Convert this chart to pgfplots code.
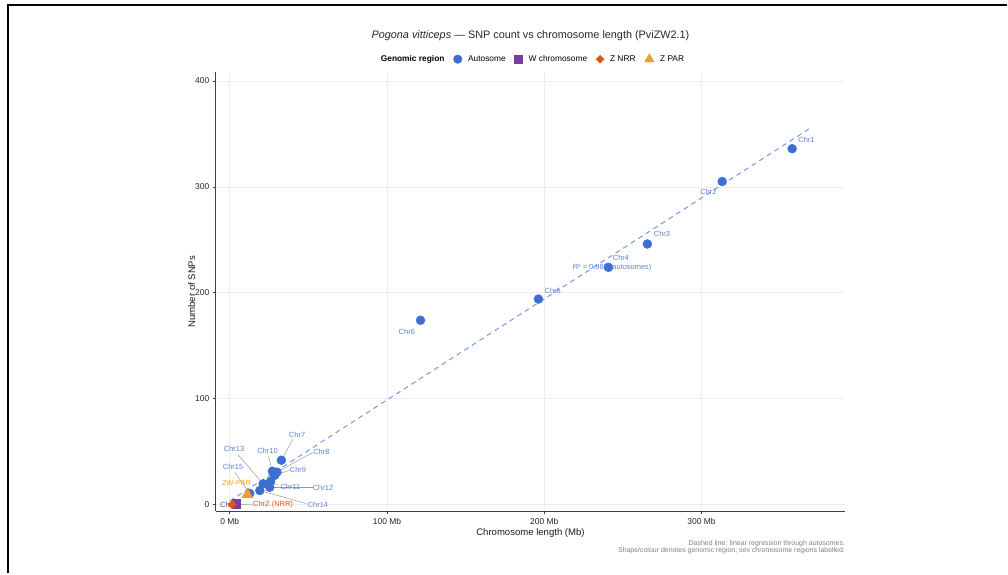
\documentclass[border=0pt]{standalone}
\usepackage{pgfplots}
\pgfplotsset{compat=1.18}
\usepackage{fontspec}
\setmainfont{Liberation Sans}
\definecolor{auto}{HTML}{3D6FD0}
\definecolor{autolab}{HTML}{5C84D6}
\definecolor{wcol}{HTML}{7D3C9C}
\definecolor{znrr}{HTML}{E0541C}
\definecolor{zpar}{HTML}{E9A12D}
\definecolor{regl}{HTML}{7FA0E6}
\definecolor{leader}{HTML}{9A9A9A}
\begin{document}
\begin{tikzpicture}
\path (0,0) rectangle (1008bp,574bp);
\draw[line width=2bp] (8bp,0) -- (8bp,569bp) -- (1008bp,569bp);
\node[font=\fontsize{10.9}{13}\selectfont, text=black!85] at (531bp,538bp) {\textit{Pogona vitticeps} — SNP count vs chromosome length (PviZW2.1)};
\node[font=\fontsize{7}{8}\selectfont, text=black!50, anchor=east, inner sep=0pt] at (846bp,30bp) {Dashed line: linear regression through autosomes.};
\node[font=\fontsize{7}{8}\selectfont, text=black!50, anchor=east, inner sep=0pt] at (846bp,23bp) {Shape/colour denotes genomic region; sex chromosome regions labelled.};
\begin{axis}[at={(216bp,62bp)}, anchor=south west, scale only axis,
  width=630bp, height=440bp,
  xmin=-8.9, xmax=391.4, ymin=-6.6, ymax=408.5,
  axis lines*=left,
  axis line style={black!75, line width=0.8bp},
  xtick={0,100,200,300}, xticklabels={0 Mb,100 Mb,200 Mb,300 Mb},
  ytick={0,100,200,300,400},
  /pgf/number format/assume math mode=true,
  tick label style={font=\fontsize{8.5}{10}\selectfont, text=black!85},
  tick align=outside, major tick length=3bp,
  tick style={black!75, line width=0.6bp},
  grid=major, major grid style={black!7, line width=0.6bp},
  xlabel={Chromosome length (Mb)}, ylabel={Number of SNPs},
  label style={font=\fontsize{9.6}{11}\selectfont, text=black!90},
  xlabel style={yshift=2bp}, ylabel style={yshift=-7bp},
  clip=false,
  legend columns=-1,
  legend style={at={(0.5,1.029)}, anchor=center, draw=none, fill=none,
    font=\fontsize{8.4}{10}\selectfont,
    /tikz/every odd column/.append style={column sep=4bp},
    /tikz/every even column/.append style={column sep=7bp}},
]
\addlegendimage{empty legend}
\addlegendentry{\textbf{Genomic region}}
\addlegendimage{only marks, mark=*, mark size=4.3bp, draw=auto, fill=auto}
\addlegendentry{Autosome}
\addlegendimage{only marks, mark=square*, mark size=4bp, draw=wcol, fill=wcol}
\addlegendentry{W chromosome}
\addlegendimage{only marks, mark=square*, mark size=2.8bp, mark options={rotate=45}, draw=znrr, fill=znrr}
\addlegendentry{Z NRR}
\addlegendimage{only marks, mark=triangle*, mark size=5.5bp, draw=zpar, fill=zpar}
\addlegendentry{Z PAR}

% regression line through autosomes
\addplot[forget plot, regl, line width=1.1bp, dash pattern=on 5bp off 4bp] coordinates {(0,3.4) (370,356.2)};

% leader lines
\begin{scope}[leader, line width=0.5bp]
\draw (axis cs:40.0,61.3) -- (axis cs:32.8,41.8);
\draw (axis cs:52.7,49.1) -- (axis cs:30.0,30.5);
\draw (axis cs:24.6,45.3) -- (axis cs:27.1,31.4);
\draw (axis cs:5.1,47.2) -- (axis cs:21.2,19.5);
\draw (axis cs:38.1,32.4) -- (axis cs:28.5,27.5);
\draw (axis cs:3.2,30.5) -- (axis cs:12.7,10.4);
\draw (axis cs:30.5,18.2) -- (axis cs:26.0,22.0);
\draw (axis cs:52.7,16.3) -- (axis cs:25.4,16.3);
\draw (axis cs:48.7,0.9) -- (axis cs:19.1,13.2);
\draw (axis cs:14.8,-0.3) -- (axis cs:1.5,0);
\end{scope}

% autosomes
\addplot[forget plot, only marks, mark=*, mark size=4.5bp, draw=auto, fill=auto] coordinates {
(357.7,336) (313.2,305) (265.6,246) (240.8,224) (196.3,194) (121.3,174)
(32.8,41.8) (30.0,30.5) (28.5,27.5) (27.1,31.4) (26.0,22.0) (25.4,16.3)
(21.2,19.5) (19.1,13.2) (12.7,10.4)
};
% W chromosome
\addplot[forget plot, only marks, mark=square*, mark size=4.3bp, draw=wcol, fill=wcol] coordinates {(4.2,0.5)};
% Z NRR
\addplot[forget plot, only marks, mark=square*, mark size=3bp, mark options={rotate=45}, draw=znrr, fill=znrr] coordinates {(1.5,0)};
% Z PAR
\addplot[forget plot, only marks, mark=triangle*, mark size=6.5bp, draw=zpar, fill=zpar] coordinates {(11.2,9.4)};

% labels
\begin{scope}[every node/.style={font=\fontsize{7.5}{9}\selectfont, text=autolab, inner sep=1bp}]
\node at (axis cs:366.8,344.3) {Chr1};
\node at (axis cs:304.5,295.6) {Chr2};
\node at (axis cs:274.9,255.4) {Chr3};
\node at (axis cs:248.8,232.7) {Chr4};
\node at (axis cs:205.4,202.2) {Chr5};
\node at (axis cs:112.6,163.5) {Chr6};
\node at (axis cs:42.8,66.0) {Chr7};
\node at (axis cs:58.3,49.7) {Chr8};
\node at (axis cs:24.0,50.3) {Chr10};
\node at (axis cs:2.7,52.5) {Chr13};
\node at (axis cs:43.4,32.4) {Chr9};
\node at (axis cs:2.1,35.2) {Chr15};
\node at (axis cs:38.6,17.0) {Chr11};
\node at (axis cs:59.3,16.0) {Chr12};
\node at (axis cs:56.1,0) {Chr14};
\node[text=zpar] at (axis cs:4.3,20.5) {ZW-PAR};
\node[text=znrr] at (axis cs:27.5,-0.3) {ChrZ (NRR)};
\node[text=wcol] at (axis cs:0,0) {ChrW};
\node at (axis cs:243.2,223.3) {R² = 0.983 (autosomes)};
\end{scope}
\end{axis}
\end{tikzpicture}
\end{document}
